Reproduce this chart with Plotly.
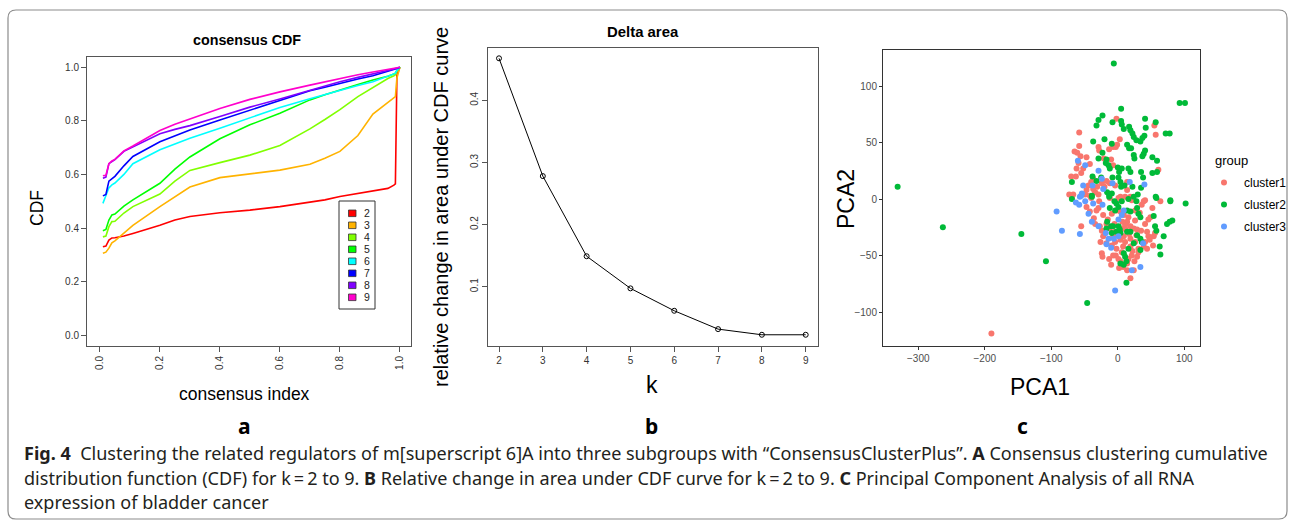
import plotly.graph_objects as go

W, H = 1295, 527

# ---------------- Panel a: consensus CDF ----------------
cdf_k = [2, 3, 4, 5, 6, 7, 8, 9]
cdf_colors = ["#FF0000", "#FFB300", "#80FF00", "#00FF00", "#00FFFF", "#0000FF", "#8000FF", "#FF00CC"]
cdf_x = [0.01, 0.02, 0.03, 0.04, 0.05, 0.08, 0.11, 0.2, 0.25, 0.3, 0.4, 0.5, 0.6, 0.7, 0.75, 0.8,
         0.86, 0.91, 0.96, 0.98, 0.985, 0.99, 1.0]
cdf_k2 = [0.330, 0.333, 0.355, 0.363, 0.364, 0.370, 0.380, 0.410, 0.430, 0.443, 0.457, 0.467, 0.480,
          0.495, 0.505, 0.518, 0.530, 0.540, 0.548, 0.560, 0.565, 0.970, 1.0]
cdf_k3 = [0.306, 0.310, 0.325, 0.345, 0.352, 0.380, 0.410, 0.480, 0.515, 0.553, 0.588, 0.603, 0.616,
          0.638, 0.660, 0.686, 0.745, 0.825, 0.868, 0.888, 0.890, 0.960, 1.0]
cdf_k4 = [0.367, 0.370, 0.405, 0.424, 0.425, 0.456, 0.480, 0.527, 0.575, 0.615, 0.644, 0.672, 0.708,
          0.770, 0.805, 0.842, 0.890, 0.925, 0.958, 0.968, 0.972, 0.985, 1.0]
cdf_k5 = [0.390, 0.395, 0.430, 0.449, 0.452, 0.482, 0.505, 0.567, 0.620, 0.665, 0.733, 0.785, 0.828,
          0.878, 0.897, 0.913, 0.935, 0.952, 0.966, 0.975, 0.978, 0.988, 1.0]
cdf_k6 = [0.492, 0.520, 0.550, 0.561, 0.568, 0.600, 0.640, 0.692, 0.715, 0.735, 0.772, 0.810, 0.850,
          0.882, 0.898, 0.914, 0.932, 0.946, 0.965, 0.975, 0.978, 0.988, 1.0]
cdf_k7 = [0.520, 0.525, 0.575, 0.585, 0.593, 0.632, 0.667, 0.722, 0.745, 0.766, 0.803, 0.840, 0.877,
          0.912, 0.925, 0.940, 0.956, 0.968, 0.984, 0.990, 0.992, 0.995, 1.0]
cdf_k8 = [0.586, 0.590, 0.640, 0.648, 0.655, 0.686, 0.702, 0.752, 0.768, 0.782, 0.816, 0.851, 0.881,
          0.914, 0.930, 0.946, 0.962, 0.974, 0.988, 0.993, 0.995, 0.997, 1.0]
cdf_k9 = [0.595, 0.597, 0.640, 0.650, 0.656, 0.688, 0.706, 0.764, 0.787, 0.806, 0.846, 0.880, 0.908,
          0.933, 0.946, 0.958, 0.972, 0.982, 0.993, 0.996, 0.997, 0.998, 1.0]
cdf_series = [cdf_k2, cdf_k3, cdf_k4, cdf_k5, cdf_k6, cdf_k7, cdf_k8, cdf_k9]

# ---------------- Panel b: delta area ----------------
delta_k = [2, 3, 4, 5, 6, 7, 8, 9]
delta_val = [0.4676, 0.278, 0.149, 0.0973, 0.0612, 0.0317, 0.0226, 0.0226]

# ---------------- Panel c: PCA ----------------
c1_x = [-190, -58, -58, -65, -61, -56, -47, -59, -52, -62, -55, -70, -63, -42, -29, -28, -21, -13, -7, -3,
        -1, 3, -10, -7, -37, -40, -44, -47, -37, -31, -24, -20, -17, -12, -4, 4, 14, 11, 19, -73, -67,
        -49, -42, -29, -2, 55, 57, 61, 41, -34, 14,
        -69, -40, -28, -12, 1, 21, 64, -42, -47, -29, -22, -9, -36, -34, -27, -17, -55, -24, -12, -4,
        -19, -22, -7, 1, 6, 11, 14, 19, 24, 29, 41, 46, 49, 52, 39, 36, 26, 16, 9, 4, -2, 44, 46, 41,
        54, 56, 53, 39, 31, 19, 11, 4, -4, -9, -2, 6, -3, 1, 4, 8, 14, 16, 21, 25, 29, 31, -24, -23,
        -13, -7, 19, 14, 24, -17, 9, 19, 26, -32,
        -15, 8, 28, 33, -5, 12, 22, -26, 2, 17, 35, 48, -10, 7, 26, 44]
c1_y = [-119, 59, 47, 42, 41, 38, 37, 32, 27, 27, 23, 20, 20, 31, 46, 43, 36, 44, 46, 46,
        48, 53, 35, 30, 18, 15, 12, 8, 9, 11, 14, 11, 16, 14, 12, 2, 8, 2, 2, 4, 4,
        4, 3, 4, 71, 65, 57, 26, -1, 6, 15,
        1, 1, -2, 1, 1, -1, -2, -11, -7, -8, -14, -13, -17, -22, -24, -22, -24, -28, -26, -29,
        -30, -33, -33, -32, -26, -23, -20, -24, -26, -27, -22, -18, -16, -8, -2, -5, -19, -16, -14, -11, -10, -29, -33, -38,
        -33, -30, -41, -42, -44, -42, -38, -36, -38, -41, -44, -47, -50, -53, -55, -60, -57, -53, -50, -55, -51, -47, -48, -51,
        -53, -50, -70, -63, -63, -39, -33, -35, -38, -10,
        -18, -42, -32, -12, -22, -27, -46, -38, -61, -31, -28, -36, -58, -20, -10, -44]

c2_x = [-331, -263, -145, -108, -46, -6,
        93, 101, 5, -23, -29, -32, -8, 5, 6, 9, 17, 19, 22, 24, 28, 34, 41, 57, 42, 40, 37, 72, 78,
        -37, -20, -9, 14, 17, 20, 41, 39, 37, 52, 59, 24, 25, -29, -23, -17, -14, -18, -12, 0, 2, 6,
        16, 19, 35, 38, 52, 59, -69, -32, -38, -25, -8, 1, 4, 5, 10, 22, 35, 30, -9, -16, -13, -39,
        57, 79,
        -69, -39, -13, -5, -2, 6, 16, 24, 28, 58, 79, 102, -12, -4, 1, 14, 19, 29, 31, -16, -10, -7,
        1, -2, 4, 14, 19, 34, 54, 56, 58, 74, 78, 82, 69, 63, 64, 29, 34, 36, 24, 16, 9, 11, 13, 4,
        9, -17, -9, 34, 3, 13]
c2_y = [11, -25, -31, -55, -92, 120,
        85, 85, 80, 74, 70, 65, 68, 69, 66, 62, 64, 61, 58, 55, 52, 51, 71, 68, 63, 56, 54, 58, 58,
        51, 53, 49, 48, 45, 45, 43, 40, 38, 37, 34, 39, 36, 36, 41, 35, 30, 32, 27, 28, 24, 27,
        27, 24, 24, 19, 23, 24, 15, 16, 20, 19, 19, 19, 15, 11, 12, 11, 10, 4, 5, 6, 2, 2,
        2, -1,
        0, 3, 4, -2, -4, -2, 0, 2, -2, 1, -2, -4, -8, -10, -7, -10, -11, -8, -13, -20, -24, -24,
        -24, -29, -30, -29, -29, -16, -15, -24, -28, -22, -20, -19, -33, -42, -49, -32, -35, -38, -39, -44, -48, -51, -55, -57,
        -58, -26, -30, -45, -27, -74]

c3_x = [-92, -84, -4,
        -60, -49, -29, -24, -52, -38, -22, -8, 18, 40, -54, -55,
        -57, -63, -58, -44, -39, -29, -18, -14, -17, -10, 1, 6, 9, -23, -37, -49, -57, 38, 34, 21, 1, -6]
c3_y = [-11, -28, -81,
        34, 30, 25, 18, 12, 12, 9, 14, 15, 13, 5, 3,
        -31, -3, -5, -13, -20, -24, -30, -35, -40, -43, -18, -14, -10, -5, -4, -2, 2, -39, -60, -63, -33, -35]

pca_names = ["cluster1", "cluster2", "cluster3"]
pca_colors = ["#F8766D", "#00BA38", "#619CFF"]
pca_x = [c1_x, c2_x, c3_x]
pca_y = [c1_y, c2_y, c3_y]


def px(x):
    return x / W


def py(y):
    return 1 - y / H


fig = go.Figure()

for k, col, ys in zip(cdf_k, cdf_colors, cdf_series):
    fig.add_trace(go.Scatter(x=cdf_x, y=ys, mode="lines", line=dict(color=col, width=1.6),
                             showlegend=False, xaxis="x", yaxis="y", hoverinfo="skip"))

fig.add_trace(go.Scatter(x=delta_k, y=delta_val, mode="lines+markers",
                         line=dict(color="black", width=1),
                         marker=dict(symbol="circle-open", size=5, color="black", line=dict(width=1)),
                         showlegend=False, xaxis="x2", yaxis="y2"))

for name, col, xs, ys in zip(pca_names, pca_colors, pca_x, pca_y):
    fig.add_trace(go.Scatter(x=xs, y=ys, mode="markers", name=name, legendgroup=name,
                             marker=dict(color=col, size=6, line=dict(width=0)),
                             xaxis="x3", yaxis="y3"))

fA = "Arial, Liberation Sans, sans-serif"
tickfont_r = dict(family=fA, size=10, color="#333333")
box_r = dict(showline=True, linecolor="#555555", linewidth=1, mirror=True, ticks="outside",
             ticklen=5, tickcolor="#555555", showgrid=False, zeroline=False, tickfont=tickfont_r)
box_g = dict(showline=True, linecolor="#333333", linewidth=1, mirror=True, ticks="outside", ticklen=3,
             tickcolor="#333333", showgrid=False, zeroline=False,
             tickfont=dict(family=fA, size=10, color="#4D4D4D"))

fig.update_layout(
    width=W, height=H, margin=dict(l=0, r=0, t=0, b=0),
    paper_bgcolor="white", plot_bgcolor="white",
    font=dict(family=fA, color="black"),
    xaxis=dict(domain=[px(87), px(411)], range=[-0.043, 1.037], tickvals=[0, 0.2, 0.4, 0.6, 0.8, 1.0],
               ticktext=["0.0", "0.2", "0.4", "0.6", "0.8", "1.0"], tickangle=-90, anchor="y", **box_r),
    yaxis=dict(domain=[py(346), py(57)], range=[-0.04, 1.038], tickvals=[0, 0.2, 0.4, 0.6, 0.8, 1.0],
               ticktext=["0.0", "0.2", "0.4", "0.6", "0.8", "1.0"], anchor="x", **box_r),
    xaxis2=dict(domain=[px(487.7), px(817.7)], range=[1.742, 9.274], tickvals=delta_k, anchor="y2", **box_r),
    yaxis2=dict(domain=[py(345.7), py(48.3)], range=[0.005, 0.4837], tickvals=[0.1, 0.2, 0.3, 0.4],
                tickangle=-90, anchor="x2", **box_r),
    xaxis3=dict(domain=[px(883), px(1200)], range=[-353, 123.6], tickvals=[-300, -200, -100, 0, 100],
                ticktext=["\u2212300", "\u2212200", "\u2212100", "0", "100"], anchor="y3", **box_g),
    yaxis3=dict(domain=[py(346), py(50)], range=[-130, 131.9], tickvals=[-100, -50, 0, 50, 100],
                ticktext=["\u2212100", "\u221250", "0", "50", "100"], anchor="x3", **box_g),
    legend=dict(x=px(1204), y=py(168), xanchor="left", yanchor="top",
                font=dict(family=fA, size=12, color="black"),
                bgcolor="rgba(0,0,0,0)", tracegroupgap=3, itemwidth=30),
)

ann = []
shapes = []
blk = "black"
ann.append(dict(x=px(247), y=py(40), text="<b>consensus CDF</b>", font=dict(family=fA, size=14.3, color=blk)))
ann.append(dict(x=px(37), y=py(208), text="CDF", textangle=-90, font=dict(family=fA, size=17.5, color=blk)))
ann.append(dict(x=px(244), y=py(394), text="consensus index", font=dict(family=fA, size=17.5, color=blk)))
ann.append(dict(x=px(643), y=py(32), text="<b>Delta area</b>", font=dict(family=fA, size=14.9, color=blk)))
ann.append(dict(x=px(441), y=py(207), text="relative change in area under CDF curve", textangle=-90,
                font=dict(family=fA, size=20, color=blk)))
ann.append(dict(x=px(652), y=py(385), text="k", font=dict(family=fA, size=23, color=blk)))
ann.append(dict(x=px(1040), y=py(387), text="PCA1", font=dict(family=fA, size=23, color=blk)))
ann.append(dict(x=px(846), y=py(199), text="PCA2", textangle=-90, font=dict(family=fA, size=23, color=blk)))
ann.append(dict(x=px(1213), y=py(161), text="group", xanchor="left", font=dict(family=fA, size=13, color=blk)))

# panel a legend (box with coloured keys)
lx0, ly0, lx1, ly1 = 339, 201, 375, 309
shapes.append(dict(type="rect", xref="paper", yref="paper", x0=px(lx0), x1=px(lx1), y0=py(ly1), y1=py(ly0),
                   line=dict(color="#333333", width=1), fillcolor="white", layer="above"))
for i, (k, col) in enumerate(zip(cdf_k, cdf_colors)):
    cy = 213.3 + 12 * i
    shapes.append(dict(type="rect", xref="paper", yref="paper", x0=px(348.5), x1=px(356),
                       y0=py(cy + 3.3), y1=py(cy - 3.3), fillcolor=col,
                       line=dict(color="#333333", width=0.8), layer="above"))
    ann.append(dict(x=px(366.7), y=py(cy), text=str(k), font=dict(family=fA, size=10.5, color="#222222")))

fC = "Noto Sans, sans-serif"
for t, xx in zip(["a", "b", "c"], [244, 652, 1022]):
    ann.append(dict(x=px(xx), y=py(426), text="<b>%s</b>" % t, font=dict(family=fC, size=21, color="black")))

cap_lines = [
    "<b>Fig. 4</b>  Clustering the related regulators of m[superscript 6]A into three subgroups with "
    "\u201cConsensusClusterPlus\u201d. <b>A</b> Consensus clustering cumulative",
    "distribution function (CDF) for k\u2009=\u20092 to 9. <b>B</b> Relative change in area under CDF curve "
    "for k\u2009=\u20092 to 9. <b>C</b> Principal Component Analysis of all RNA",
    "expression of bladder cancer",
]
for i, line in enumerate(cap_lines):
    ann.append(dict(x=px(22), y=py(453 + 24.5 * i), text=line, xanchor="left",
                    font=dict(family=fC, size=18.05, color="#231F20")))

for a in ann:
    a.setdefault("xref", "paper")
    a.setdefault("yref", "paper")
    a.setdefault("showarrow", False)
    a.setdefault("xanchor", "center")
    a.setdefault("yanchor", "middle")

r = 8
x0, y0, x1, y1 = 8, 10, 1287, 519
path = (f"M {px(x0 + r)},{py(y0)} L {px(x1 - r)},{py(y0)} Q {px(x1)},{py(y0)} {px(x1)},{py(y0 + r)} "
        f"L {px(x1)},{py(y1 - r)} Q {px(x1)},{py(y1)} {px(x1 - r)},{py(y1)} "
        f"L {px(x0 + r)},{py(y1)} Q {px(x0)},{py(y1)} {px(x0)},{py(y1 - r)} "
        f"L {px(x0)},{py(y0 + r)} Q {px(x0)},{py(y0)} {px(x0 + r)},{py(y0)} Z")
shapes.append(dict(type="path", xref="paper", yref="paper", path=path, line=dict(color="#8C8C8C", width=1.2)))

fig.update_layout(annotations=ann, shapes=shapes)
fig.write_html("out.html", config={"displayModeBar": False},
               post_script="document.body.style.margin='0px';document.body.style.overflow='hidden';")
